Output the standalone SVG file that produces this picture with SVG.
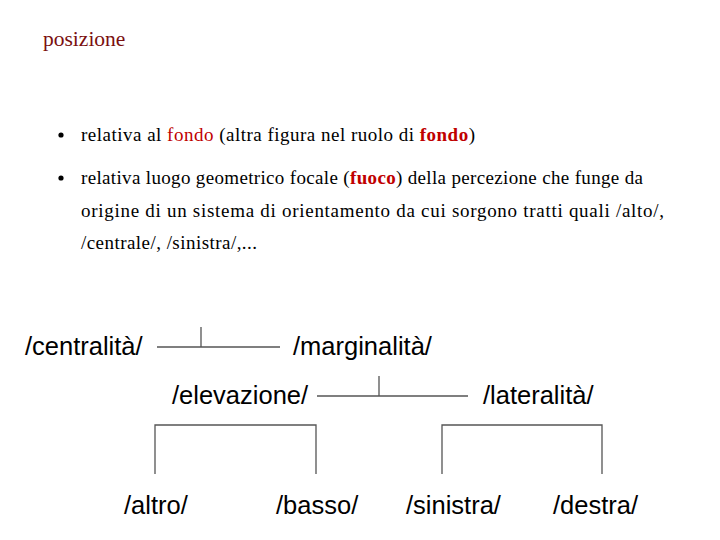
<svg xmlns="http://www.w3.org/2000/svg" width="720" height="540" viewBox="0 0 720 540">
<style>
.t{font-family:"Liberation Serif","DejaVu Serif",serif;font-size:19px;fill:#000}
.r{fill:#c00000}
.b{font-weight:bold}
.n{font-family:"Liberation Sans",Arial,sans-serif;font-size:25.5px;fill:#000}
.c{stroke:#555;stroke-width:1.3;fill:none}
</style>
<rect width="720" height="540" fill="#fff"/>
<text x="43" y="46" font-family="Liberation Serif,serif" font-size="21.5" fill="#7a0f0f">posizione</text>
<circle cx="61" cy="135" r="2.6" fill="#000"/>
<text class="t" x="81" y="141" textLength="394" lengthAdjust="spacing">relativa al <tspan class="r">fondo</tspan> (altra figura nel ruolo di <tspan class="r b">fondo</tspan>)</text>
<circle cx="61" cy="178" r="2.6" fill="#000"/>
<text class="t" x="81" y="184" textLength="562" lengthAdjust="spacing">relativa luogo geometrico focale (<tspan class="r b">fuoco</tspan>) della percezione che funge da</text>
<text class="t" x="81" y="217" textLength="583" lengthAdjust="spacing">origine di un sistema di orientamento da cui sorgono tratti quali  /alto/,</text>
<text class="t" x="81" y="249" textLength="176" lengthAdjust="spacing">/centrale/, /sinistra/,...</text>
<g id="connectors">
<path class="c" d="M157 347H280M201 327V347"/>
<path class="c" d="M317 396H468M379 376V396"/>
<path class="c" d="M155 474V425H316V474"/>
<path class="c" d="M442 474V425H602V474"/>
</g>
<g id="centralita"><text class="n" x="25" y="355">/centralità/</text></g>
<g id="marginalita"><text class="n" x="293" y="355">/marginalità/</text></g>
<g id="elevazione"><text class="n" x="172" y="404">/elevazione/</text></g>
<g id="lateralita"><text class="n" x="483" y="404">/lateralità/</text></g>
<g id="altro"><text class="n" x="124" y="514">/altro/</text></g>
<g id="basso"><text class="n" x="276" y="514">/basso/</text></g>
<g id="sinistra"><text class="n" x="406" y="514">/sinistra/</text></g>
<g id="destra"><text class="n" x="553" y="514">/destra/</text></g>
</svg>
